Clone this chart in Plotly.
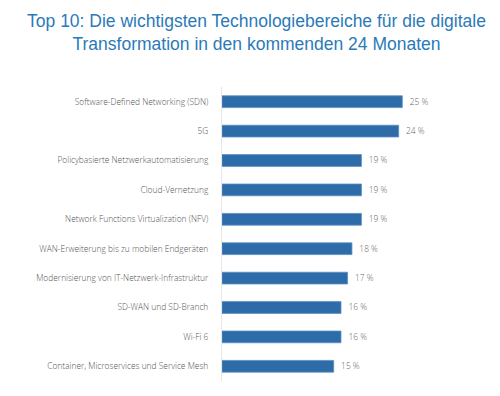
import plotly.graph_objects as go

categories = [
    "Software-Defined Networking (SDN)",
    "5G",
    "Policybasierte Netzwerkautomatisierung",
    "Cloud-Vernetzung",
    "Network Functions Virtualization (NFV)",
    "WAN-Erweiterung bis zu mobilen Endgeräten",
    "Modernisierung von IT-Netzwerk-Infrastruktur",
    "SD-WAN und SD-Branch",
    "Wi-Fi 6",
    "Container, Microservices und Service Mesh",
]
values = [24.7, 24.2, 19.1, 19.1, 19.1, 17.8, 17.2, 16.3, 16.3, 15.3]
value_labels = ["25 %", "24 %", "19 %", "19 %", "19 %", "18 %", "17 %", "16 %", "16 %", "15 %"]

title_text = ("Top 10: Die wichtigsten Technologiebereiche für die digitale<br>"
              "Transformation in den kommenden 24 Monaten")

fig = go.Figure(go.Bar(
    x=values,
    y=categories,
    orientation="h",
    text=value_labels,
    texttemplate="  %{text}",
    textposition="outside",
    cliponaxis=False,
    textfont=dict(family="Open Sans", size=8.6, color="#666666", weight=300),
    marker=dict(color="#2d6ca8", line=dict(color="#5a8fc2", width=0.8)),
    hoverinfo="skip",
))

fig.update_layout(
    width=500, height=396,
    paper_bgcolor="white", plot_bgcolor="white",
    margin=dict(l=214, r=67, t=79, b=23),
    bargap=0.6,
    showlegend=False,
    title=dict(
        text=title_text,
        x=0.497, xanchor="center", y=0.952, yanchor="top",
        font=dict(family="Liberation Sans", size=17.5, color="#2a7ab9"),
    ),
)
fig.update_xaxes(range=[0, 30], visible=False, showgrid=False, zeroline=False,
                 automargin=False)
fig.update_yaxes(
    categoryorder="array", categoryarray=categories[::-1],
    showline=True, linecolor="#e6e6e6", linewidth=1,
    ticks="", ticklabelstandoff=11, automargin=False,
    tickfont=dict(family="Open Sans", size=8.4, color="#555555", weight=300),
    showgrid=False,
)

fig.write_html("out.html")
